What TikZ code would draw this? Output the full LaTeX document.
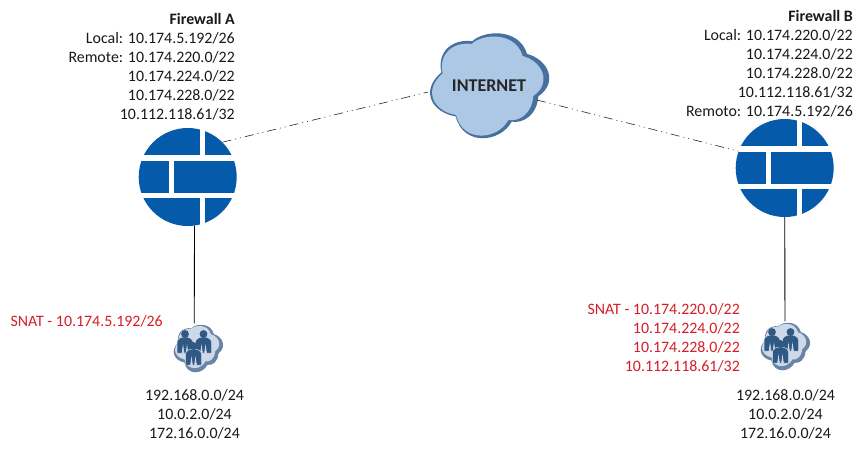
\documentclass[tikz,border=0pt]{standalone}
\usepackage{fontspec}
\setmainfont{Carlito}
\usetikzlibrary{calc}
\definecolor{fwblue}{RGB}{5,90,170}
\definecolor{cloudlight}{RGB}{172,200,228}
\definecolor{clouddark}{RGB}{72,112,158}
\definecolor{smalllight}{RGB}{205,217,232}
\definecolor{smalldark}{RGB}{105,132,165}
\definecolor{people}{RGB}{48,88,132}
\definecolor{snatred}{RGB}{215,30,40}
\newcommand{\cloudpath}{(128,160) .. controls (115,100) and (160,65) .. (215,72)
  .. controls (245,42) and (345,32) .. (368,108)
  .. controls (430,125) and (455,190) .. (400,228)
  .. controls (395,285) and (355,305) .. (325,300)
  .. controls (295,358) and (190,372) .. (168,285)
  .. controls (105,275) and (65,215) .. (128,160) -- cycle}
\newcommand{\firewallicon}[2]{%
  \begin{scope}[shift={(#1)}]
    \fill[fwblue] (0,0) circle (49);
    \fill[white] (-52,-22) rectangle (52,-16.5);
    \fill[white] (-52,15.8) rectangle (52,21);
    \fill[white] (12.3,-52) rectangle (17,-20);
    \fill[white] (-18.5,-20) rectangle (-13.5,18);
    \fill[white] (12,18) rectangle (17.5,52);
  \end{scope}
  \node[fwnode] (#2) at (#1) {};
}
\newcommand{\personicon}[1]{%
  \begin{scope}[shift={(#1)}]
    \fill[people,draw=smalllight,line width=0.5pt] (-8,19) -- (-8,8) .. controls (-8,5) and (-4,3.5) .. (-2,3)
      -- (2,3) .. controls (4,3.5) and (8,5) .. (8,8) -- (8,19) -- (3,19) -- (2,12) -- (1,19) -- (-1,19) -- (-2,12) -- (-3,19) -- cycle;
    \fill[people] (0,0) circle (3.9);
  \end{scope}
}
\newcommand{\usercloud}[3]{%
  \begin{scope}[shift={(#1)}]
    \begin{scope}[x=0.148pt,y=-0.16pt,shift={(-261,-195)}]
      \fill[smalldark] \cloudpath;
    \end{scope}
    \begin{scope}[x=0.132pt,y=-0.142pt,shift={(-270,-205)}]
      \fill[smalllight] \cloudpath;
    \end{scope}
    \personicon{-13,-14}
    \personicon{5.5,-14}
    \personicon{-4.5,-2}
  \end{scope}
  \node[inner sep=0pt,minimum size=1pt] (#3) at (#2) {};
}
\tikzset{
  fwnode/.style={circle,inner sep=0pt,minimum size=98pt},
  wan/.style={black!85,line width=0.6pt,dash pattern=on 9pt off 4pt on 1pt off 4pt on 1pt off 4pt},
  lan/.style={black,line width=0.9pt},
  info/.style={align=right,anchor=north east,inner sep=0pt,font=\fontsize{15.9pt}{19pt}\selectfont,text=black!90},
  nets/.style={align=center,anchor=north,inner sep=0pt,font=\fontsize{15.9pt}{19pt}\selectfont,text=black!90},
  snat/.style={align=right,anchor=north east,inner sep=0pt,font=\fontsize{15.9pt}{19pt}\selectfont,text=snatred},
}
\begin{document}
\begin{tikzpicture}[x=1pt,y=-1pt]
\useasboundingbox (0,0) rectangle (864,451);
\fill[white] (0,0) rectangle (864,451);
% cloud
\begin{scope}[shift={(400,20)},x=0.3333pt,y=-0.3333pt]
\begin{scope}[x=0.3567pt,y=-0.353pt,shift={(-12,-12)}]
\fill[clouddark] \cloudpath;
\end{scope}
\fill[cloudlight] \cloudpath;
\end{scope}
\node[font=\bfseries\fontsize{18pt}{20pt}\selectfont,text=black!85,inner sep=0pt] (inet) at (489,86) {INTERNET};
\coordinate (cloudW) at (428,92);
\coordinate (cloudE) at (537,100);
\firewallicon{187.7,177}{fa}
\firewallicon{784.7,168}{fb}
\usercloud{198,348}{194.2,324}{ua}
\usercloud{785,346}{785,322}{ub}
\draw[wan] (fa.45) -- (cloudW);
\draw[wan] (cloudE) -- (fb.160);
\draw[lan] (fa.-82) -- (ua);
\draw[lan] (fb.south) -- (ub);
\node[info] (ta) at (235,13) {\textbf{Firewall A}\\Local: 10.174.5.192/26\\Remote: 10.174.220.0/22\\10.174.224.0/22\\10.174.228.0/22\\10.112.118.61/32};
\node[info] (tb) at (853,10.5) {\textbf{Firewall B}\\Local: 10.174.220.0/22\\10.174.224.0/22\\10.174.228.0/22\\10.112.118.61/32\\Remoto: 10.174.5.192/26};
\node[snat] (sa) at (163,315) {SNAT - 10.174.5.192/26};
\node[snat] (sb) at (740,303.5) {SNAT - 10.174.220.0/22\\10.174.224.0/22\\10.174.228.0/22\\10.112.118.61/32};
\node[nets] (na) at (194.5,389.5) {192.168.0.0/24\\10.0.2.0/24\\172.16.0.0/24};
\node[nets] (nb) at (785.5,389.5) {192.168.0.0/24\\10.0.2.0/24\\172.16.0.0/24};
\end{tikzpicture}
\end{document}
